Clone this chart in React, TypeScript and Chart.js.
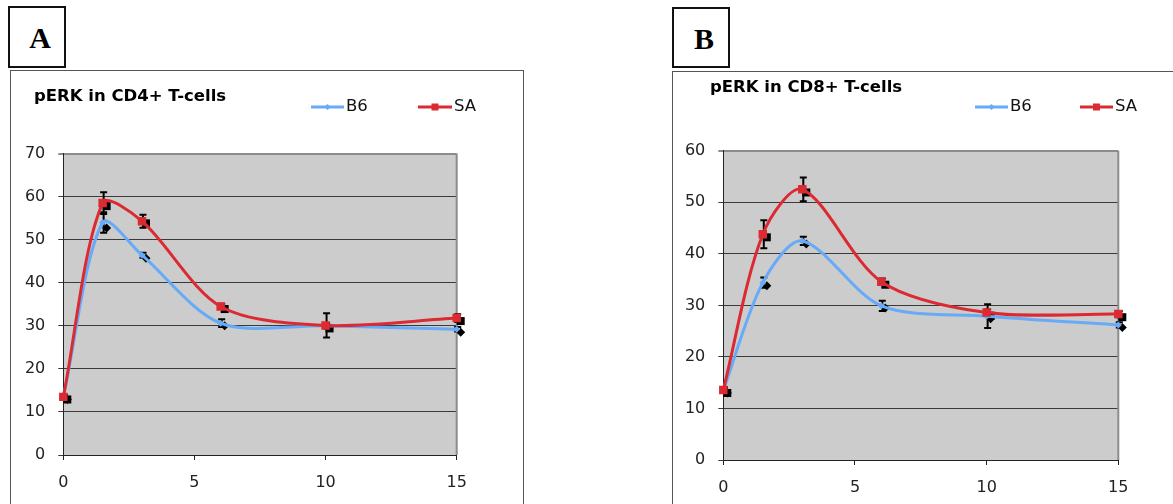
import React, { useEffect, useRef } from "react";
import { Chart, registerables } from "chart.js";

Chart.register(...registerables);

// ---------- data ----------
const timePoints = [0, 1.5, 3, 6, 10, 15];
const xTickStep = 5;
const seriesLabels = ["B6", "SA"];

const cd4Title = "pERK in CD4+ T-cells";
const cd4YTicks = [0, 10, 20, 30, 40, 50, 60, 70];
const cd4B6 = [13.4, 54.0, 46.4, 30.6, 30.0, 29.2];
const cd4SA = [13.5, 58.5, 54.3, 34.5, 30.1, 31.8];
const cd4B6Err = [0.5, 2.4, 0.6, 0.9, 0.6, 0.5];
const cd4SAErr = [0.5, 2.5, 1.5, 0.6, 2.8, 0.9];
const cd4B6Mean = [12.9, 52.7, 45.7, 30.0, 29.6, 28.5];
const cd4SAMean = [12.9, 57.8, 53.8, 33.9, 29.4, 31.1];

const cd8Title = "pERK in CD8+ T-cells";
const cd8YTicks = [0, 10, 20, 30, 40, 50, 60];
const cd8B6 = [13.5, 34.4, 42.5, 29.9, 27.9, 26.2];
const cd8SA = [13.6, 43.8, 52.5, 34.6, 28.6, 28.3];
const cd8B6Err = [0.5, 1.0, 0.8, 1.0, 2.3, 0.5];
const cd8SAErr = [0.5, 2.7, 2.3, 0.6, 0.6, 0.6];
const cd8B6Mean = [13.0, 33.8, 41.9, 29.5, 27.4, 25.7];
const cd8SAMean = [13.0, 43.2, 51.9, 34.0, 28.0, 27.7];

// ---------- style ----------
const BLUE = "#66aaf8";
const RED = "#dc2a32";
const FONT = "'DejaVu Sans', Verdana, sans-serif";
const TENSION = 0.3;

type Geo = {
  canvasLeft: number;
  canvasTop: number;
  canvasW: number;
  canvasH: number;
  padTop: number;
  padRight: number;
  yAxisW: number;
  xAxisH: number;
  titleX: number;
  titleY: number;
  legendY: number;
  legend: { x1: number; x2: number }[];
  boxLeft: number;
  boxTop: number;
  boxH: number;
  letterTop: number;
};

type PanelProps = {
  letter: string;
  title: string;
  yTicks: number[];
  b6: number[];
  sa: number[];
  b6Err: number[];
  saErr: number[];
  b6Mean: number[];
  saMean: number[];
  geo: Geo;
};

function drawSquare(ctx: CanvasRenderingContext2D, x: number, y: number, s: number) {
  ctx.fillRect(x - s / 2, y - s / 2, s, s);
}
function drawDiamond(ctx: CanvasRenderingContext2D, x: number, y: number, r: number) {
  ctx.beginPath();
  ctx.moveTo(x - r, y);
  ctx.lineTo(x, y - r);
  ctx.lineTo(x + r, y);
  ctx.lineTo(x, y + r);
  ctx.closePath();
  ctx.fill();
}

function makeDecor(p: PanelProps) {
  return {
    id: "decor",
    beforeDraw(chart: any) {
      const { ctx, chartArea: a } = chart;
      ctx.save();
      ctx.fillStyle = "#cccccc";
      ctx.fillRect(a.left, a.top, a.right - a.left, a.bottom - a.top);
      ctx.restore();
    },
    beforeDatasetsDraw(chart: any) {
      const { ctx, chartArea: a } = chart;
      const xs = chart.scales.x;
      const ys = chart.scales.y;
      ctx.save();
      ctx.strokeStyle = "#8c8c8c";
      ctx.lineWidth = 2;
      ctx.beginPath();
      ctx.moveTo(a.right, a.top);
      ctx.lineTo(a.right, a.bottom);
      ctx.stroke();

      const groups = [
        { vals: p.b6, err: p.b6Err, mean: p.b6Mean, shape: "diamond" },
        { vals: p.sa, err: p.saErr, mean: p.saMean, shape: "square" },
      ];
      ctx.strokeStyle = "#000";
      ctx.fillStyle = "#000";
      for (const g of groups) {
        timePoints.forEach((t, i) => {
          const px = xs.getPixelForValue(t) + 1;
          const yT = ys.getPixelForValue(g.vals[i] + g.err[i]);
          const yB = ys.getPixelForValue(g.vals[i] - g.err[i]);
          ctx.lineWidth = 2;
          ctx.beginPath();
          ctx.moveTo(px, yT);
          ctx.lineTo(px, yB);
          ctx.moveTo(px - 3.5, yT);
          ctx.lineTo(px + 3.5, yT);
          ctx.moveTo(px - 3.5, yB);
          ctx.lineTo(px + 3.5, yB);
          ctx.stroke();
          const mx = xs.getPixelForValue(t) + 4;
          const my = ys.getPixelForValue(g.mean[i]);
          if (g.shape === "square") drawSquare(ctx, mx, my, 8);
          else drawDiamond(ctx, mx, my, 4.5);
        });
      }
      ctx.restore();
    },
    afterDraw(chart: any) {
      const { ctx } = chart;
      const colors = [BLUE, RED];
      ctx.save();
      // title
      ctx.fillStyle = "#000";
      ctx.font = `bold 16.5px ${FONT}`;
      ctx.textBaseline = "middle";
      ctx.textAlign = "left";
      ctx.fillText(p.title, p.geo.titleX, p.geo.titleY);
      // legend
      seriesLabels.forEach((lab, i) => {
        const pos = p.geo.legend[i];
        const y = p.geo.legendY;
        ctx.strokeStyle = colors[i];
        ctx.fillStyle = colors[i];
        ctx.lineWidth = 3;
        ctx.beginPath();
        ctx.moveTo(pos.x1, y);
        ctx.lineTo(pos.x2, y);
        ctx.stroke();
        const cx = (pos.x1 + pos.x2) / 2;
        if (i === 0) drawDiamond(ctx, cx, y, 3);
        else drawSquare(ctx, cx, y, 7);
        ctx.fillStyle = "#111";
        ctx.font = `16.5px ${FONT}`;
        ctx.textBaseline = "middle";
        ctx.textAlign = "left";
        ctx.fillText(lab, pos.x2 + 2, y);
      });
      ctx.restore();
    },
  };
}

function Panel(p: PanelProps) {
  const ref = useRef<HTMLCanvasElement>(null);
  const g = p.geo;
  useEffect(() => {
    const yMin = p.yTicks[0];
    const yMax = p.yTicks[p.yTicks.length - 1];
    const yStep = p.yTicks[1] - p.yTicks[0];
    const chart = new Chart(ref.current as HTMLCanvasElement, {
      type: "scatter",
      data: {
        datasets: [
          {
            label: seriesLabels[0],
            data: timePoints.map((x, i) => ({ x, y: p.b6[i] })),
            showLine: true,
            borderColor: BLUE,
            backgroundColor: BLUE,
            borderWidth: 3,
            tension: TENSION,
            pointStyle: "rectRot",
            pointRadius: 3.5,
            pointBorderWidth: 0,
            order: 1,
            clip: 10,
          } as any,
          {
            label: seriesLabels[1],
            data: timePoints.map((x, i) => ({ x, y: p.sa[i] })),
            showLine: true,
            borderColor: RED,
            backgroundColor: RED,
            borderWidth: 3,
            tension: TENSION,
            pointStyle: "rect",
            pointRadius: 6,
            pointBorderWidth: 0,
            order: 0,
            clip: 10,
          } as any,
        ],
      },
      options: {
        responsive: false,
        animation: false,
        events: [],
        layout: { padding: { left: 0, right: g.padRight, top: g.padTop, bottom: 0 } },
        plugins: {
          legend: { display: false },
          tooltip: { enabled: false },
          title: { display: false },
        },
        scales: {
          x: {
            type: "linear",
            min: 0,
            max: 15,
            afterFit: (s: any) => {
              s.height = g.xAxisH;
            },
            ticks: { stepSize: xTickStep, padding: 13, color: "#222", font: { family: FONT, size: 16 } },
            grid: { display: true, drawOnChartArea: false, drawTicks: true, tickLength: 5, color: "#222" },
            border: { display: true, color: "#222", width: 1 },
          },
          y: {
            type: "linear",
            min: yMin,
            max: yMax,
            afterFit: (s: any) => {
              s.width = g.yAxisW;
            },
            ticks: { stepSize: yStep, padding: 13, color: "#222", font: { family: FONT, size: 16 } },
            grid: {
              display: true,
              drawTicks: true,
              tickLength: 5,
              color: (c: any) => (c.tick && c.tick.value === yMax ? "#8c8c8c" : "#3a3a3a"),
              lineWidth: (c: any) => (c.tick && c.tick.value === yMax ? 2 : 1),
            },
            border: { display: true, color: "#222", width: 1 },
          },
        },
      } as any,
      plugins: [makeDecor(p) as any],
    });
    return () => chart.destroy();
  }, []);

  return (
    <>
      <div
        style={{
          position: "absolute",
          left: g.boxLeft,
          top: g.boxTop,
          width: 54,
          height: g.boxH - 4,
          border: "2px solid #111",
          background: "#fff",
        }}
      >
        <div
          style={{
            position: "absolute",
            left: 0,
            width: 60,
            top: g.letterTop,
            textAlign: "center",
            font: "bold 30px 'Liberation Serif', 'Times New Roman', serif",
            lineHeight: "30px",
            color: "#000",
          }}
        >
          {p.letter}
        </div>
      </div>
      <div
        style={{
          position: "absolute",
          left: g.canvasLeft - 1,
          top: g.canvasTop - 1,
          width: g.canvasW,
          height: g.canvasH,
          border: "1px solid #555",
          background: "#fff",
        }}
      >
        <canvas
          ref={ref}
          width={g.canvasW}
          height={g.canvasH}
          style={{ display: "block", width: g.canvasW, height: g.canvasH }}
        />
      </div>
    </>
  );
}

const geoA: Geo = {
  canvasLeft: 11,
  canvasTop: 71,
  canvasW: 512,
  canvasH: 440,
  padTop: 82.6,
  padRight: 66.3,
  yAxisW: 52.3,
  xAxisH: 56,
  titleX: 23,
  titleY: 26,
  legendY: 36,
  legend: [
    { x1: 300, x2: 333 },
    { x1: 407, x2: 441 },
  ],
  boxLeft: 8,
  boxTop: 6,
  boxH: 62,
  letterTop: 15,
};

const geoB: Geo = {
  canvasLeft: 673,
  canvasTop: 72,
  canvasW: 520,
  canvasH: 440,
  padTop: 78.7,
  padRight: 74.7,
  yAxisW: 50.3,
  xAxisH: 52,
  titleX: 37,
  titleY: 16,
  legendY: 35,
  legend: [
    { x1: 302, x2: 335 },
    { x1: 407, x2: 440 },
  ],
  boxLeft: 672,
  boxTop: 7,
  boxH: 61,
  letterTop: 15,
};

export default function App() {
  return (
    <div
      style={{
        position: "absolute",
        left: 0,
        top: 0,
        width: 1173,
        height: 504,
        overflow: "hidden",
        background: "#fff",
      }}
    >
      <Panel
        letter="A"
        title={cd4Title}
        yTicks={cd4YTicks}
        b6={cd4B6}
        sa={cd4SA}
        b6Err={cd4B6Err}
        saErr={cd4SAErr}
        b6Mean={cd4B6Mean}
        saMean={cd4SAMean}
        geo={geoA}
      />
      <Panel
        letter="B"
        title={cd8Title}
        yTicks={cd8YTicks}
        b6={cd8B6}
        sa={cd8SA}
        b6Err={cd8B6Err}
        saErr={cd8SAErr}
        b6Mean={cd8B6Mean}
        saMean={cd8SAMean}
        geo={geoB}
      />
    </div>
  );
}
